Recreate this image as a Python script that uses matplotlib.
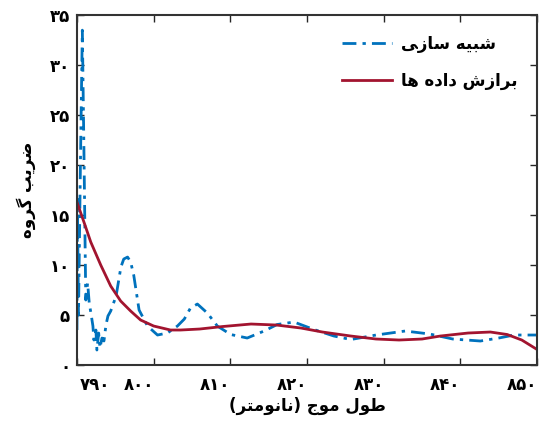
#! /usr/bin/env python3

import matplotlib.pyplot as plt
import matplotlib.transforms as mtransforms
import numpy as np

# simulated group index (blue dash-dot)
sim_x = [790.0, 790.06, 790.2, 790.45, 790.7, 790.9, 791.15, 791.39, 791.6, 791.82,
         792.08, 792.21, 792.47, 792.6, 792.83, 793.0, 793.26, 793.52, 793.78, 794.04,
         794.4, 795.1, 795.73, 796.1, 796.6, 797.0, 797.4, 798.1, 799.2, 800.5,
         801.8, 803.1, 804.0, 804.8, 805.7, 807.0, 808.3, 810.05, 812.2, 814.4,
         816.1, 818.3, 820.9, 823.5, 825.7, 829.0, 832.8, 836.0, 839.0, 842.6,
         845.0, 847.0, 850.0]
sim_y = [3.5, 16.6, 5.0, 20.0, 33.5, 22.0, 6.5, 8.2, 6.2, 5.2,
         3.9, 2.5, 3.5, 1.5, 3.2, 1.7, 2.7, 2.4, 4.0, 4.9,
         5.4, 6.9, 9.8, 10.6, 10.8, 10.3, 9.0, 5.5, 3.9, 3.0,
         3.2, 3.9, 4.6, 5.7, 6.1, 5.2, 3.9, 3.05, 2.7, 3.4,
         4.05, 4.3, 3.55, 2.9, 2.55, 3.0, 3.4, 3.1, 2.6, 2.4,
         2.7, 3.0, 3.0]

# fitted curve (red)
fit_x = [790.0, 791.0, 791.8, 793.1, 794.4, 795.7, 797.0, 798.3, 800.0, 802.2,
         803.5, 806.0, 809.0, 812.7, 816.0, 819.2, 822.0, 825.7, 829.0, 832.0,
         835.0, 837.4, 841.0, 843.9, 846.1, 848.0, 850.0]
fit_y = [16.3, 14.1, 12.3, 10.0, 7.9, 6.4, 5.4, 4.5, 3.9, 3.5,
         3.5, 3.6, 3.85, 4.1, 4.0, 3.7, 3.3, 2.9, 2.6, 2.5,
         2.6, 2.9, 3.2, 3.3, 3.05, 2.5, 1.55]

xticks = [790, 800, 810, 820, 830, 840, 850]
yticks = [0, 5, 10, 15, 20, 25, 30, 35]

# Persian text, already shaped (presentation forms) and in visual order
lbl_sim = "\uFEF0\uFEAF\uFE8E\uFEB3 \uFEEA\uFEF4\uFE92\uFEB7"                 # شبیه سازی
lbl_fit = "\uFE8E\uFEEB \uFEE9\uFEA9\uFE8D\uFEA9 \uFEB5\uFEAF\uFE8D\uFEAE\uFE91"  # برازش داده ها
xlab = "(\uFEAE\uFE98\uFEE3\uFEEE\uFEE7\uFE8E\uFEE7) \uFE9D\uFEEE\uFEE3 \uFEDD\uFEEE\uFEC3"  # طول موج (نانومتر)
ylab = "\uFEE9\uFEED\uFEAE\uFB94 \uFE90\uFEF3\uFEAE\uFEBF"                     # ضریب گروه

fa = str.maketrans("0123456789", "\u06F0\u06F1\u06F2\u06F3\u06F4\u06F5\u06F6\u06F7\u06F8\u06F9")

plt.rcParams['font.family'] = ['DejaVu Sans']

fig = plt.figure(figsize=(5.42, 4.21), dpi=100)
ax = fig.add_axes([0.142, 0.133, 0.849, 0.831])

ax.plot(sim_x, sim_y, color=(0, 0.447, 0.741), lw=2, dashes=(5, 2.2, 1.2, 2.2), label=lbl_sim)
ax.plot(fit_x, fit_y, color=(0.635, 0.078, 0.184), lw=2, label=lbl_fit)

ax.set_xlim(790, 850)
ax.set_ylim(0, 35)
ax.set_xticks(xticks)
ax.set_yticks(yticks)
ax.set_xticklabels([str(t).translate(fa) for t in xticks], fontsize=12, fontweight='bold')
ax.set_yticklabels([str(t).translate(fa) for t in yticks], fontsize=12, fontweight='bold')
ax.tick_params(direction='in', top=True, right=True, length=5, width=1, color='#262626')
ax.tick_params(axis='y', pad=5)
ax.tick_params(axis='x', pad=8)
for s in ax.spines.values():
    s.set_linewidth(1.5)
    s.set_color('#333333')

# x tick labels sit right-aligned at their tick, the first one starts just after it
xtl = ax.get_xticklabels()
for t in xtl:
    t.set_ha('right')
xtl[0].set_ha('left')
xtl[0].set_transform(xtl[0].get_transform() + mtransforms.ScaledTranslation(0.03, 0, fig.dpi_scale_trans))

ax.set_xlabel(xlab, fontsize=12, fontweight='bold', labelpad=2)
ax.set_ylabel(ylab, fontsize=12, fontweight='bold', labelpad=10)

ax.legend(loc='upper right', frameon=False, prop={'weight': 'bold', 'size': 12},
          handlelength=3.0, handletextpad=0.5, labelspacing=1.1, borderaxespad=0.8)

plt.savefig("out.png")
